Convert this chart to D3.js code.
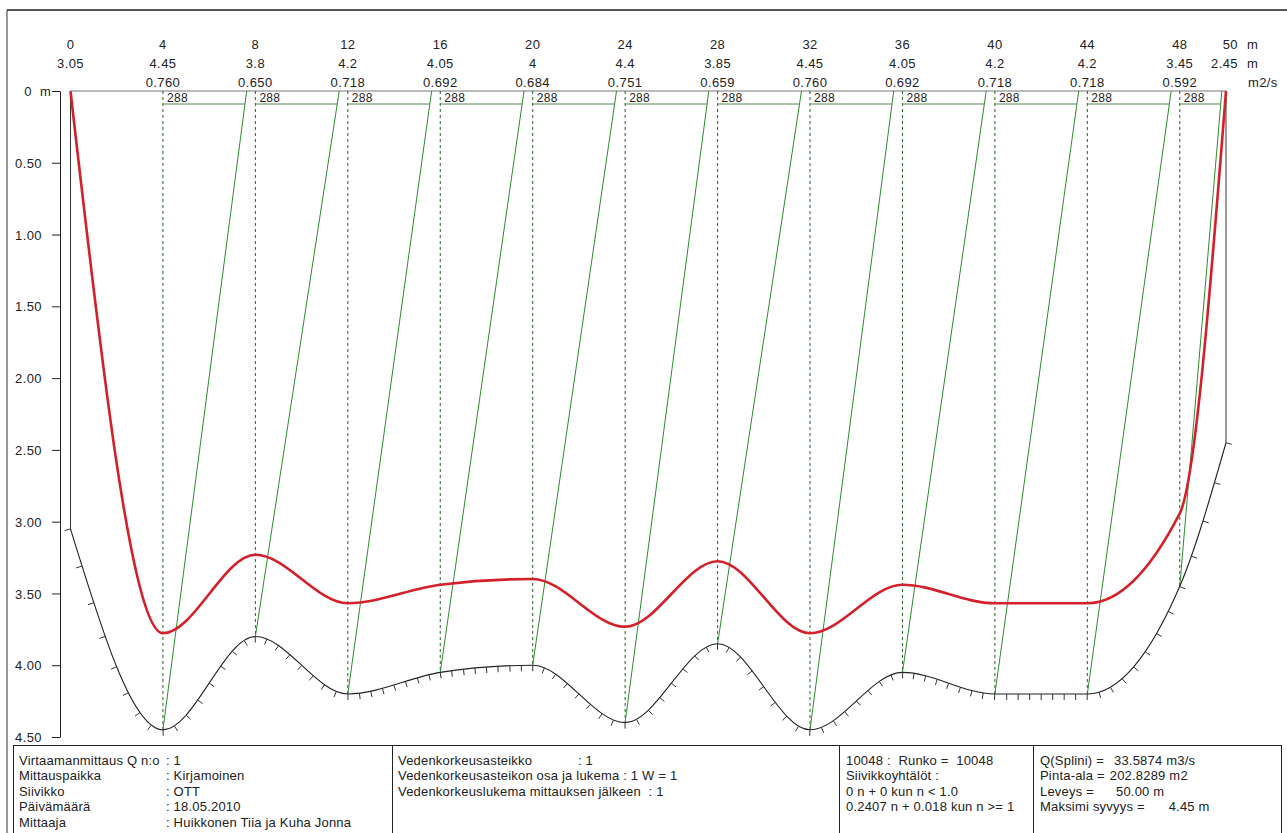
<!DOCTYPE html>
<html>
<head>
<meta charset="utf-8">
<script src="https://cdn.jsdelivr.net/npm/d3@7"></script>
<style>
  html, body { margin: 0; padding: 0; background: #fff; }
  svg { display: block; font-family: "Liberation Sans", Arial, sans-serif; }
  text { fill: #222; font-size: 13px; letter-spacing: 0.4px; white-space: pre; }
  .table text { letter-spacing: 0.2px; }
</style>
</head>
<body>
<svg id="chart" width="1287" height="833"></svg>
<script>
// Verticals across the section: distance from the left bank (m) and measured depth (m)
const stations = [0, 4, 8, 12, 16, 20, 24, 28, 32, 36, 40, 44, 48, 50];
const depths = [3.05, 4.45, 3.8, 4.2, 4.05, 4, 4.4, 3.85, 4.45, 4.05, 4.2, 4.2, 3.45, 2.45];
const depthLabels = ["3.05", "4.45", "3.8", "4.2", "4.05", "4", "4.4", "3.85", "4.45", "4.05", "4.2", "4.2", "3.45", "2.45"];
// Unit discharge of each vertical (m2/s); the banks carry none
const unitDischarge = [0, 0.760, 0.650, 0.718, 0.692, 0.684, 0.751, 0.659, 0.760, 0.692, 0.718, 0.718, 0.592, 0];
const dischargeLabels = ["", "0.760", "0.650", "0.718", "0.692", "0.684", "0.751", "0.659", "0.760", "0.692", "0.718", "0.718", "0.592", ""];
// Current meter revolutions counted at each vertical
const revolutions = [null, 288, 288, 288, 288, 288, 288, 288, 288, 288, 288, 288, 288, null];
// Depth axis
const depthTicks = [0, 0.5, 1, 1.5, 2, 2.5, 3, 3.5, 4, 4.5];

// Measurement record shown in the footer
const infoMeasurement = [
  ["Virtaamanmittaus Q n:o", ": 1"],
  ["Mittauspaikka", ": Kirjamoinen"],
  ["Siivikko", ": OTT"],
  ["Päivämäärä", ": 18.05.2010"],
  ["Mittaaja", ": Huikkonen Tiia ja Kuha Jonna"]
];
const infoGauge = [
  ["Vedenkorkeusasteikko", ": 1"],
  ["Vedenkorkeusasteikon osa ja lukema : 1 W = 1", ""],
  ["Vedenkorkeuslukema mittauksen jälkeen  : 1", ""]
];
const infoMeter = [
  "10048 :  Runko =  10048",
  "Siivikkoyhtälöt :",
  "0 n + 0 kun n < 1.0",
  "0.2407 n + 0.018 kun n >= 1"
];
const infoResultLabels = ["Q(Splini) =", "Pinta-ala =", "Leveys =", "Maksimi syvyys ="];
const infoResultValues = ["33.5874 m3/s", "202.8289 m2", "50.00 m", "4.45 m"];
const infoResultGaps = [10, 5, 22, 24];

const svg = d3.select("#chart");

// Scales: distance across, depth down, unit discharge drawn downward from the surface
const x = d3.scaleLinear().domain([0, 50]).range([70.5, 1226]);
const y = d3.scaleLinear().domain([0, 4.5]).range([91, 737]);
const qy = d3.scaleLinear().domain([0, 1]).range([y(0), y(4.97)]);

const verts = stations.map((s, i) => ({
  s, d: depths[i], q: unitDischarge[i], dl: depthLabels[i], ql: dischargeLabels[i], rev: revolutions[i], i
}));
const inner = verts.filter(v => v.rev !== null);

// Outer frame
svg.append("line").attr("x1", 7).attr("x2", 1287).attr("y1", 10).attr("y2", 10)
  .attr("stroke", "#555").attr("stroke-width", 2);
svg.append("line").attr("x1", 7).attr("x2", 7).attr("y1", 10).attr("y2", 833)
  .attr("stroke", "#333").attr("stroke-width", 1);

const plot = svg.append("g");

// Water surface
plot.append("line").attr("x1", x(0)).attr("x2", x(50)).attr("y1", y(0)).attr("y2", y(0))
  .attr("stroke", "#777").attr("stroke-width", 1.2);

// Bank verticals
[verts[0], verts[verts.length - 1]].forEach(v => {
  plot.append("line").attr("x1", x(v.s)).attr("x2", x(v.s)).attr("y1", y(0)).attr("y2", y(v.d))
    .attr("stroke", "#333").attr("stroke-width", 1);
});

// Measurement verticals (dashed)
plot.selectAll("line.vert").data(inner).join("line").attr("class", "vert")
  .attr("x1", v => x(v.s)).attr("x2", v => x(v.s))
  .attr("y1", y(0)).attr("y2", v => y(v.d))
  .attr("stroke", "#2a5f2a").attr("stroke-width", 1).attr("stroke-dasharray", "3,3");

// Velocity lines: from the bed to the surface, offset by relative mean velocity
const vel = verts.map(v => v.d > 0 ? v.q / v.d : 0);
const vMax = d3.max(vel);
const boxDepth = 13; // px below surface for the revolution label box
inner.forEach(v => {
  const next = verts[v.i + 1];
  const x0 = x(v.s), y0 = y(v.d);
  const x1 = x0 + 0.91 * (vel[v.i] / vMax) * (x(next.s) - x0);
  const y1 = y(0);
  plot.append("line").attr("x1", x0).attr("y1", y0).attr("x2", x1).attr("y2", y1)
    .attr("stroke", "#2f8a2f").attr("stroke-width", 1);
  const yb = y(0) + boxDepth;
  const xb = x0 + (x1 - x0) * (y0 - yb) / (y0 - y1);
  plot.append("line").attr("x1", x0).attr("x2", xb).attr("y1", yb).attr("y2", yb)
    .attr("stroke", "#4e8a4e").attr("stroke-width", 1);
  plot.append("text").attr("x", x0 + 4).attr("y", y(0) + 10.5)
    .style("font-size", "12px").style("letter-spacing", "0.3px").text(v.rev);
});

// River bed
const bedLine = d3.line().x(v => x(v.s)).y(v => y(v.d)).curve(d3.curveMonotoneX);
const bedPath = plot.append("path").attr("d", bedLine(verts))
  .attr("fill", "none").attr("stroke", "#222").attr("stroke-width", 1.1);

// Bed hatching every half metre, pointing out of the channel
const node = bedPath.node();
const total = node.getTotalLength();
const samples = [];
for (let l = 0; l <= total; l += 0.5) samples.push(node.getPointAtLength(l));
samples.push(node.getPointAtLength(total));
const hatch = [];
for (let m = 0; m <= 50.001; m += 0.5) {
  const px = x(m);
  let best = 0, bd = Infinity;
  for (let k = 0; k < samples.length; k++) {
    const dd = Math.abs(samples[k].x - px);
    if (dd < bd) { bd = dd; best = k; }
  }
  const a = samples[Math.max(0, best - 3)], b = samples[Math.min(samples.length - 1, best + 3)];
  let tx = b.x - a.x, ty = b.y - a.y;
  const len = Math.hypot(tx, ty) || 1;
  tx /= len; ty /= len;
  const p = samples[best];
  hatch.push({ x1: p.x, y1: p.y, x2: p.x - ty * 6, y2: p.y + tx * 6 });
}
plot.selectAll("line.hatch").data(hatch).join("line").attr("class", "hatch")
  .attr("x1", d => d.x1).attr("y1", d => d.y1).attr("x2", d => d.x2).attr("y2", d => d.y2)
  .attr("stroke", "#333").attr("stroke-width", 1);

// Unit discharge distribution
const qLine = d3.line().x(v => x(v.s)).y(v => qy(v.q)).curve(d3.curveMonotoneX);
plot.append("path").attr("d", qLine(verts))
  .attr("fill", "none").attr("stroke", "#d4202a").attr("stroke-width", 2.6)
  .attr("stroke-linejoin", "round");

// Header rows: distance, depth, unit discharge
const head = svg.append("g");
verts.forEach((v, i) => {
  const last = i === verts.length - 1;
  const hx = last ? x(v.s) + 12 : x(v.s);
  const anchor = last ? "end" : "middle";
  head.append("text").attr("x", hx).attr("y", 49).attr("text-anchor", anchor).text(v.s);
  head.append("text").attr("x", hx).attr("y", 68).attr("text-anchor", anchor).text(v.dl);
  if (v.ql) head.append("text").attr("x", hx).attr("y", 87).attr("text-anchor", anchor).text(v.ql);
});
head.append("text").attr("x", 1247).attr("y", 49).text("m");
head.append("text").attr("x", 1247).attr("y", 68).text("m");
head.append("text").attr("x", 1248).attr("y", 87).text("m2/s");

// Depth axis
const axis = d3.axisLeft(y).tickValues(depthTicks).tickSize(8).tickSizeOuter(0).tickPadding(10)
  .tickFormat(d => d === 0 ? "" : d3.format(".2f")(d));
const ag = svg.append("g").attr("transform", "translate(60,0)").call(axis)
  .attr("font-size", null).attr("font-family", null).style("color", "#222");
ag.selectAll("text").attr("dy", "0.35em");
svg.append("text").attr("x", 32).attr("y", y(0) + 4.5).attr("text-anchor", "end").text("0");
svg.append("text").attr("x", 40).attr("y", y(0) + 4.5).text("m");

// Footer table
const tTop = 745;
const table = svg.append("g").attr("class", "table");
table.append("rect").attr("x", 13.5).attr("y", tTop + 0.5).attr("width", 1268).attr("height", 110)
  .attr("fill", "none").attr("stroke", "#222").attr("stroke-width", 1);
[392.5, 839.5, 1033.5].forEach(cx => {
  table.append("line").attr("x1", cx).attr("x2", cx).attr("y1", tTop).attr("y2", 855)
    .attr("stroke", "#222").attr("stroke-width", 1);
});
const rowY = i => tTop + 19.5 + i * 15.5;
infoMeasurement.forEach((r, i) => {
  table.append("text").attr("x", 19).attr("y", rowY(i)).text(r[0]);
  table.append("text").attr("x", 166).attr("y", rowY(i)).text(r[1]);
});
infoGauge.forEach((r, i) => {
  table.append("text").attr("x", 398).attr("y", rowY(i)).text(r[0]);
  if (r[1]) table.append("text").attr("x", 578).attr("y", rowY(i)).text(r[1]);
});
infoMeter.forEach((r, i) => {
  table.append("text").attr("x", 846).attr("y", rowY(i)).text(r);
});
infoResultLabels.forEach((r, i) => {
  const lbl = table.append("text").attr("x", 1040).attr("y", rowY(i)).text(r);
  const end = 1040 + lbl.node().getComputedTextLength();
  table.append("text").attr("x", end + infoResultGaps[i]).attr("y", rowY(i)).text(infoResultValues[i]);
});
</script>
</body>
</html>
